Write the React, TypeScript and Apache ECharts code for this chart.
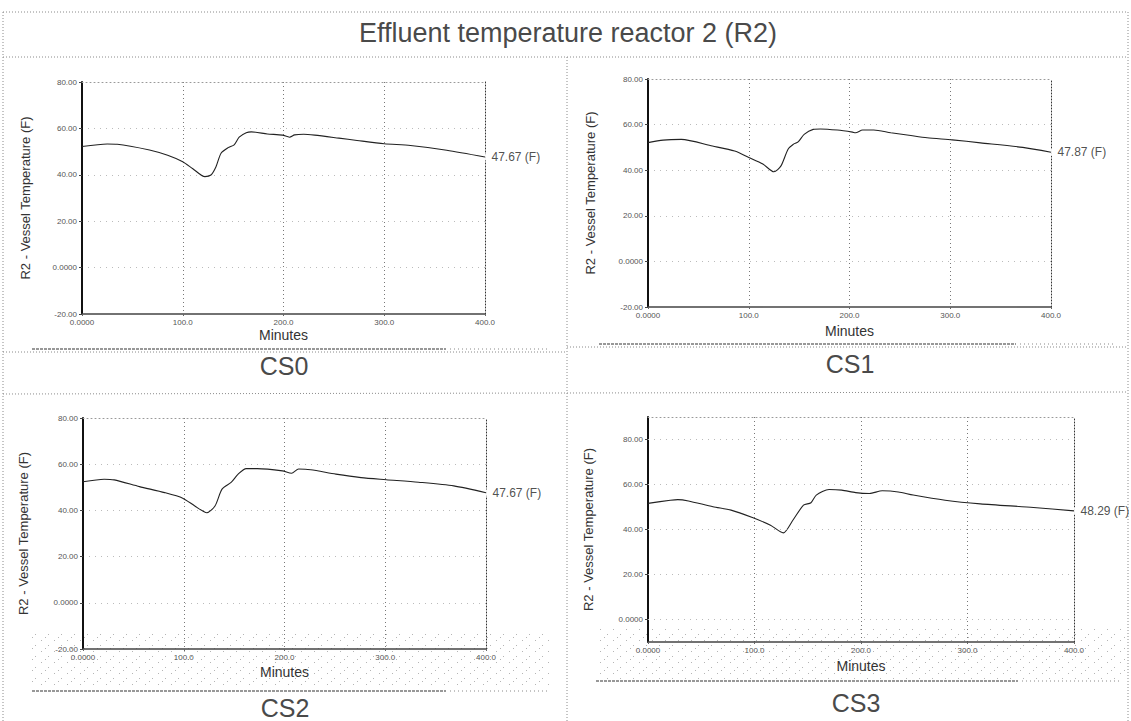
import React, { useEffect, useRef } from "react";
import * as echarts from "echarts";

const TITLE = "Effluent temperature reactor 2 (R2)";
const CAPTIONS = ["CS0", "CS1", "CS2", "CS3"];
const Y_NAME = "R2 - Vessel Temperature (F)";
const X_NAME = "Minutes";
const UNIT = "(F)";

const cs0Minutes = [0, 25, 35, 67, 85, 100, 110, 122, 128, 133, 138, 145, 151, 156, 163, 168, 184, 199, 206, 211, 220, 231, 255, 273, 300, 326, 362, 400];
const cs0Temp = [52.2, 53.3, 53.2, 50.7, 48.4, 45.6, 42.6, 39.2, 39.9, 43.5, 49.3, 51.7, 52.9, 56.2, 58.1, 58.5, 57.6, 57.1, 56.2, 57.2, 57.5, 57.1, 55.8, 54.8, 53.4, 52.6, 50.6, 47.67];

const cs1Minutes = [0, 15, 33, 64, 86, 100, 114, 125, 132, 139, 144, 149, 155, 164, 171, 188, 203, 206, 213, 224, 241, 259, 277, 302, 330, 372, 400];
const cs1Temp = [52.1, 53.2, 53.5, 50.6, 48.4, 45.6, 42.7, 39.3, 41.9, 49.2, 51.3, 52.4, 55.7, 57.9, 58.1, 57.6, 56.7, 56.4, 57.6, 57.6, 56.4, 55.3, 54.2, 53.3, 52.0, 50.0, 47.87];

const cs2Minutes = [0, 21, 31, 56, 81, 99, 111, 123, 131, 138, 147, 154, 162, 173, 198, 207, 214, 226, 251, 276, 301, 333, 368, 400];
const cs2Temp = [52.4, 53.5, 53.2, 50.3, 47.7, 45.3, 41.9, 39.0, 41.9, 49.2, 52.1, 55.7, 58.1, 58.1, 57.1, 56.1, 57.9, 57.6, 55.7, 54.2, 53.3, 52.2, 50.6, 47.67];

const cs3Minutes = [0, 21, 28, 38, 61, 78, 98, 115, 127, 136, 146, 153, 158, 170, 182, 195, 208, 220, 235, 249, 279, 312, 362, 400];
const cs3Temp = [51.6, 53.0, 53.3, 52.7, 50.1, 48.6, 45.3, 41.9, 38.5, 44.1, 50.8, 51.9, 55.3, 57.8, 57.5, 56.4, 56.0, 57.2, 56.7, 55.3, 53.0, 51.4, 49.8, 48.29];

const yTicks = [-20, 0, 20, 40, 60, 80];
const yTicksCS3 = [0, 20, 40, 60, 80];

const panelMinutes = [cs0Minutes, cs1Minutes, cs2Minutes, cs3Minutes];
const panelTemps = [cs0Temp, cs1Temp, cs2Temp, cs3Temp];

const FONT = "'Liberation Sans', Arial, sans-serif";

function makeStipple(): string {
  const c = document.createElement("canvas");
  c.width = 13;
  c.height = 11;
  const ctx = c.getContext("2d");
  if (ctx) {
    ctx.fillStyle = "rgba(120,120,120,0.55)";
    ctx.fillRect(2, 2, 1, 1);
    ctx.fillRect(9, 7, 1, 1);
    ctx.fillRect(6, 10, 1, 1);
  }
  return c.toDataURL();
}

export default function App() {
  const ref = useRef<HTMLDivElement>(null);

  useEffect(() => {
    if (!ref.current) return;
    const chart = echarts.init(ref.current, undefined, { renderer: "svg" });

    const grids = [
      { left: 82, top: 82, width: 403, height: 232 },
      { left: 648, top: 79, width: 403, height: 228 },
      { left: 83, top: 418, width: 403, height: 231 },
      { left: 648, top: 417, width: 426, height: 225 },
    ];
    const yCfg = [
      { min: -20, max: 80, interval: 20, ticks: yTicks },
      { min: -20, max: 80, interval: 20, ticks: yTicks },
      { min: -20, max: 80, interval: 20, ticks: yTicks },
      { min: -10, max: 90, interval: 10, ticks: yTicksCS3 },
    ];
    const nameGaps = [50, 51, 53, 53];
    const minutesGaps = [14, 17, 16, 17];

    const xAxes: any[] = [];
    const yAxes: any[] = [];
    const series: any[] = [];

    const fmtX = (v: number) => (v === 0 ? "0.0000" : v.toFixed(1));
    const fmtY = (v: number) => (v === 0 ? "0.0000" : v.toFixed(2));

    grids.forEach((g, i) => {
      const yc = yCfg[i];
      const isCS3 = i === 3;
      xAxes.push({
        type: "value",
        gridIndex: i,
        position: "bottom",
        min: 0,
        max: 400,
        interval: 100,
        name: X_NAME,
        nameLocation: "middle",
        nameGap: minutesGaps[i],
        nameTextStyle: { fontFamily: FONT, fontSize: 14, color: "#333", verticalAlign: "top" },
        axisLine: { show: true, onZero: false, lineStyle: { color: "#444", width: 1.6 } },
        axisTick: { show: true, length: 2, lineStyle: { color: "#666" } },
        axisLabel: {
          show: true,
          fontFamily: FONT,
          fontSize: 8,
          color: "#555",
          margin: 4,
          formatter: fmtX,
        },
        splitLine: {
          show: true,
          showMinLine: false,
          showMaxLine: false,
          lineStyle: { color: "#777", width: 1, type: [1, 3] },
        },
      });
      xAxes.push({
        type: "value",
        gridIndex: i,
        position: "top",
        min: 0,
        max: 400,
        interval: 100,
        axisLine: { show: true, onZero: false, lineStyle: { color: "#999", width: 1, type: [1, 3] } },
        axisTick: { show: false },
        axisLabel: { show: false },
        splitLine: { show: false },
      });
      yAxes.push({
        type: "value",
        gridIndex: i,
        position: "left",
        min: yc.min,
        max: yc.max,
        interval: yc.interval,
        name: Y_NAME,
        nameLocation: "middle",
        nameRotate: 90,
        nameGap: nameGaps[i],
        nameTextStyle: { fontFamily: FONT, fontSize: 13, color: "#333" },
        axisLine: { show: true, onZero: false, lineStyle: { color: "#111", width: 2 } },
        axisTick: isCS3
          ? { show: true, length: 3, customValues: yc.ticks, lineStyle: { color: "#444" } }
          : { show: true, length: 3, lineStyle: { color: "#444" } },
        axisLabel: isCS3
          ? { show: true, fontFamily: FONT, fontSize: 8, color: "#555", margin: 5, customValues: yc.ticks, formatter: fmtY }
          : { show: true, fontFamily: FONT, fontSize: 8, color: "#555", margin: 5, formatter: fmtY },
        splitLine: {
          show: !isCS3,
          showMinLine: false,
          showMaxLine: false,
          lineStyle: { color: "#bbb", width: 1, type: [1, 5] },
        },
      });
      yAxes.push({
        type: "value",
        gridIndex: i,
        position: "right",
        min: yc.min,
        max: yc.max,
        interval: yc.interval,
        axisLine: { show: true, onZero: false, lineStyle: { color: "#333", width: 1, type: [1, 2] } },
        axisTick: { show: false },
        axisLabel: { show: false },
        splitLine: { show: false },
      });

      const mins = panelMinutes[i];
      const temps = panelTemps[i];
      const data = mins.map((m, k) => [m, temps[k]]);
      const last = data[data.length - 1];

      series.push({
        type: "line",
        xAxisIndex: 2 * i,
        yAxisIndex: 2 * i,
        data,
        smooth: 0.25,
        symbol: "none",
        lineStyle: { color: "#222", width: 1.1 },
        silent: true,
        markLine: isCS3
          ? {
              silent: true,
              symbol: "none",
              label: { show: false },
              lineStyle: { color: "#bbb", width: 1, type: [1, 5] },
              data: yc.ticks.map((t) => ({ yAxis: t })),
            }
          : undefined,
      });
      series.push({
        type: "scatter",
        xAxisIndex: 2 * i,
        yAxisIndex: 2 * i,
        data: [last],
        symbol: "emptyCircle",
        symbolSize: 5,
        itemStyle: { color: "#fff", borderColor: "#222", borderWidth: 1 },
        label: {
          show: true,
          position: "right",
          distance: 3,
          fontFamily: FONT,
          fontSize: 12,
          color: "#222",
          formatter: (p: any) => `${p.value[1].toFixed(2)} ${UNIT}`,
        },
        silent: true,
      });
    });

    const stipple = makeStipple();
    const border = { stroke: "#8a8a8a", lineWidth: 1, lineDash: [1, 2] };
    const stippleLine = { stroke: "#777", lineWidth: 1.5, lineDash: [3, 1] };
    const lightDots = { stroke: "#888", lineWidth: 1, lineDash: [1, 3] };
    const L = (x1: number, y1: number, x2: number, y2: number, style: any) => ({
      type: "line",
      shape: { x1, y1, x2, y2 },
      style,
      silent: true,
    });
    const T = (text: string, x: number, y: number, size: number) => ({
      type: "text",
      x,
      y,
      silent: true,
      style: {
        text,
        fontFamily: FONT,
        fontSize: size,
        fill: "#4a4a4a",
        align: "center",
        verticalAlign: "middle",
      },
    });

    const graphic: any[] = [
      { type: "rect", shape: { x: 30, y: 634, width: 520, height: 54 }, style: { fill: { image: stipple, repeat: "repeat" } }, silent: true, z: -10 },
      { type: "rect", shape: { x: 596, y: 628, width: 530, height: 52 }, style: { fill: { image: stipple, repeat: "repeat" } }, silent: true, z: -10 },
      // table borders
      L(3, 12, 1128, 12, border),
      L(3, 12, 3, 721, border),
      L(1128, 12, 1128, 721, border),
      L(3, 57, 1128, 57, border),
      L(567, 57, 567, 721, border),
      L(3, 352, 567, 352, border),
      L(567, 347, 1128, 347, border),
      L(3, 394, 1128, 392, border),
      // chart image bottoms
      L(32, 349, 446, 349, stippleLine),
      L(450, 349, 548, 349, lightDots),
      L(599, 344, 1016, 344, stippleLine),
      L(1020, 344, 1114, 344, lightDots),
      L(32, 691, 446, 691, stippleLine),
      L(450, 691, 548, 691, lightDots),
      L(596, 681, 1018, 681, stippleLine),
      L(1022, 681, 1120, 681, lightDots),
      // title and captions
      T(TITLE, 568, 33, 27),
      T(CAPTIONS[0], 284, 366, 25),
      T(CAPTIONS[1], 850, 364, 25),
      T(CAPTIONS[2], 285, 708, 25),
      T(CAPTIONS[3], 856, 703, 25),
    ];

    chart.setOption({
      animation: false,
      backgroundColor: "#ffffff",
      grid: grids.map((g) => ({ ...g, containLabel: false })),
      xAxis: xAxes,
      yAxis: yAxes,
      series,
      graphic,
    });

    return () => chart.dispose();
  }, []);

  return (
    <div
      ref={ref}
      style={{ position: "absolute", left: 0, top: 0, width: 1131, height: 721 }}
    />
  );
}
